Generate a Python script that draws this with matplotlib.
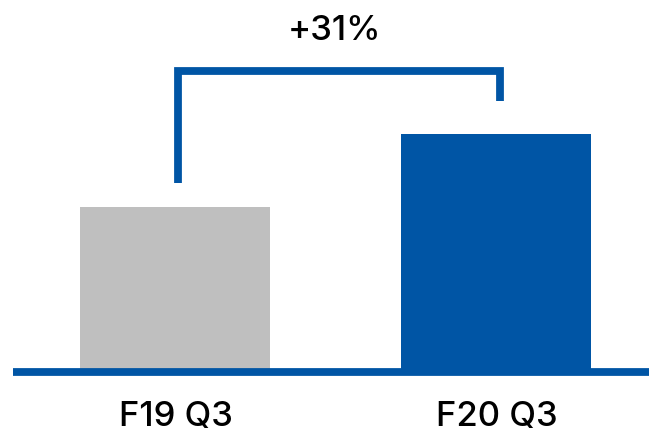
import matplotlib
matplotlib.use("Agg")
import matplotlib.pyplot as plt

categories = ["F19 Q3", "F20 Q3"]
values = [165, 238]
bar_colors = ["#BFBFBF", "#0055A5"]
growth_label = "+31%"

BLUE = "#0055A5"
W, H = 649, 436
fig = plt.figure(figsize=(W / 100, H / 100), dpi=100)
base_px = 372
ax = fig.add_axes([0, (H - base_px) / H, 1, base_px / H])
ax.set_ylim(0, base_px)
spacing = 321
ax.set_xlim(-175 / spacing, 1 + (W - 496) / spacing)
ax.axis("off")

x = list(range(len(categories)))
ax.bar(x, values, width=190 / spacing, color=bar_colors, zorder=2)

ax.axhline(0, xmin=13 / W, xmax=1, lw=5.6, color=BLUE, zorder=3,
           clip_on=False, solid_capstyle="butt")

# bracket
xl = x[0] + 3 / spacing
xr = x[1] + 4 / spacing
top = values[1] + 63
ax.plot([xl, xl, xr, xr], [values[0] + 24, top, top, values[1] + 33],
        color=BLUE, lw=5.6, solid_capstyle="butt", solid_joinstyle="miter",
        zorder=3, clip_on=False)

font = ["Inter", "DejaVu Sans"]
ax.text((xl + xr) / 2 - 4 / spacing, base_px - 40, growth_label, ha="center",
        va="baseline", fontsize=25, family=font, weight="medium", color="black")
for xi, c in zip(x, categories):
    ax.text(xi + 1 / spacing, -54, c, ha="center", va="baseline", fontsize=25,
            family=font, weight="medium", color="black", clip_on=False)

fig.savefig("out.png", dpi=100)
